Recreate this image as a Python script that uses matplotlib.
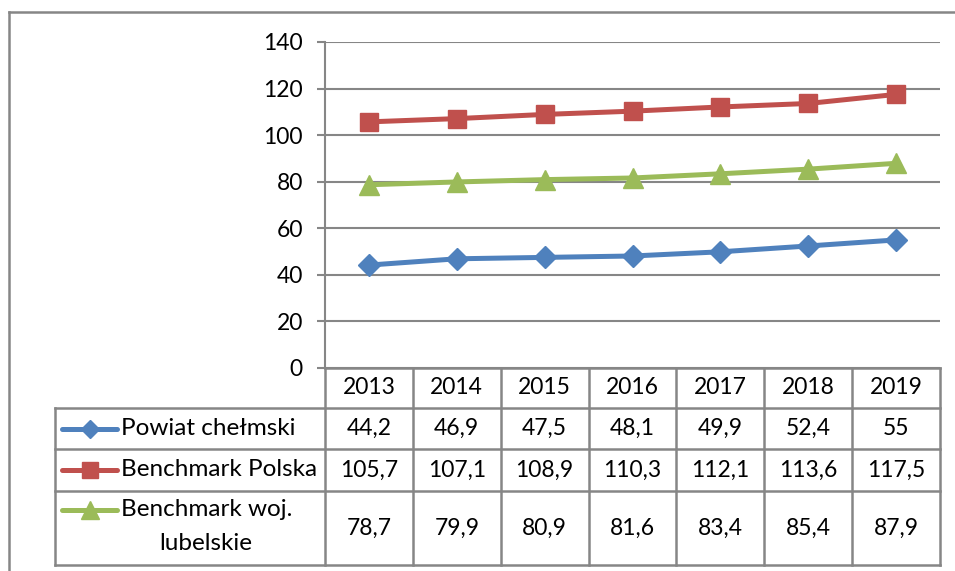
import matplotlib.pyplot as plt
from matplotlib.lines import Line2D

years = ["2013", "2014", "2015", "2016", "2017", "2018", "2019"]
powiat = [44.2, 46.9, 47.5, 48.1, 49.9, 52.4, 55]
polska = [105.7, 107.1, 108.9, 110.3, 112.1, 113.6, 117.5]
lubelskie = [78.7, 79.9, 80.9, 81.6, 83.4, 85.4, 87.9]
series_names = ["Powiat chełmski", "Benchmark Polska", "Benchmark woj.\nlubelskie"]
colors = ["#4F81BD", "#C0504D", "#9BBB59"]
markers = ["D", "s", "^"]
msizes = [11, 13, 15]

W, H = 955, 571
plt.rcParams['font.family'] = ['Lato', 'DejaVu Sans']
fig = plt.figure(figsize=(W / 100, H / 100), dpi=100)

def fx(px):
    return px / W

def fy(py):
    return 1 - py / H

# plot area in pixels
L, R, T, B = 325, 940, 42, 368
ax = fig.add_axes([fx(L), fy(B), fx(R - L), (B - T) / H])
n = len(years)
ax.set_xlim(-0.5, n - 0.5)
ax.set_ylim(0, 140)
ax.set_yticks(range(0, 141, 20))
ax.set_xticks([])
for s in ["top", "right", "bottom"]:
    ax.spines[s].set_visible(False)
ax.spines["left"].set_color("#868686")
ax.spines["left"].set_linewidth(1.5)
ax.yaxis.grid(True, color="#868686", linewidth=1.5)
ax.set_axisbelow(True)
ax.tick_params(axis="y", length=6, width=1.5, color="#868686", labelsize=16.5, pad=10)

data = [powiat, polska, lubelskie]
x = list(range(n))
for vals, c, m, ms in zip(data, colors, markers, msizes):
    ax.plot(x, vals, color=c, linewidth=3.6, marker=m, markersize=ms,
            markeredgecolor=c, clip_on=False, zorder=3)

gc = "#868686"

def hline(x0, x1, y):
    fig.add_artist(Line2D([fx(x0), fx(x1)], [fy(y), fy(y)], color=gc, linewidth=1.8))

def vline(x, y0, y1):
    fig.add_artist(Line2D([fx(x), fx(x)], [fy(y0), fy(y1)], color=gc, linewidth=1.8))

# outer frame
hline(9, W, 12)
vline(9, 12, H)

# table
TL = 55
rows = [368, 408, 449, 491, 565]
colw = (R - L) / n
hline(L, R, rows[0])
for ry in rows[1:]:
    hline(TL, R, ry)
vline(TL, rows[1], rows[-1])
for i in range(n + 1):
    vline(L + i * colw, rows[0], rows[-1])

fs = 16.5
fl = 17.5
for i, yr in enumerate(years):
    fig.text(fx(L + (i + 0.5) * colw), fy((rows[0] + rows[1]) / 2), yr,
             ha="center", va="center", fontsize=fs)

for r, (name, vals, c, m, ms) in enumerate(zip(series_names, data, colors, markers, msizes)):
    y0, y1 = rows[r + 1], rows[r + 2]
    yc = (y0 + y1) / 2
    ky = yc if r < 2 else y0 + 19
    fig.add_artist(Line2D([fx(62), fx(117)], [fy(ky), fy(ky)], color=c, linewidth=3.6,
                          solid_capstyle="round"))
    fig.add_artist(Line2D([fx(89.5)], [fy(ky)], color=c, marker=m, markersize=ms * 0.85,
                          markeredgecolor=c))
    if r < 2:
        fig.text(fx(121), fy(yc), name, ha="left", va="center", fontsize=fl)
    else:
        l1, l2 = name.split("\n")
        fig.text(fx(121), fy(ky), l1, ha="left", va="center", fontsize=fl)
        fig.text(fx(206), fy(y0 + 53), l2, ha="center", va="center", fontsize=fl)
    for i, v in enumerate(vals):
        txt = ("%g" % v).replace(".", ",")
        fig.text(fx(L + (i + 0.5) * colw), fy(yc), txt, ha="center", va="center", fontsize=fs)

fig.savefig("out.png", dpi=100)
